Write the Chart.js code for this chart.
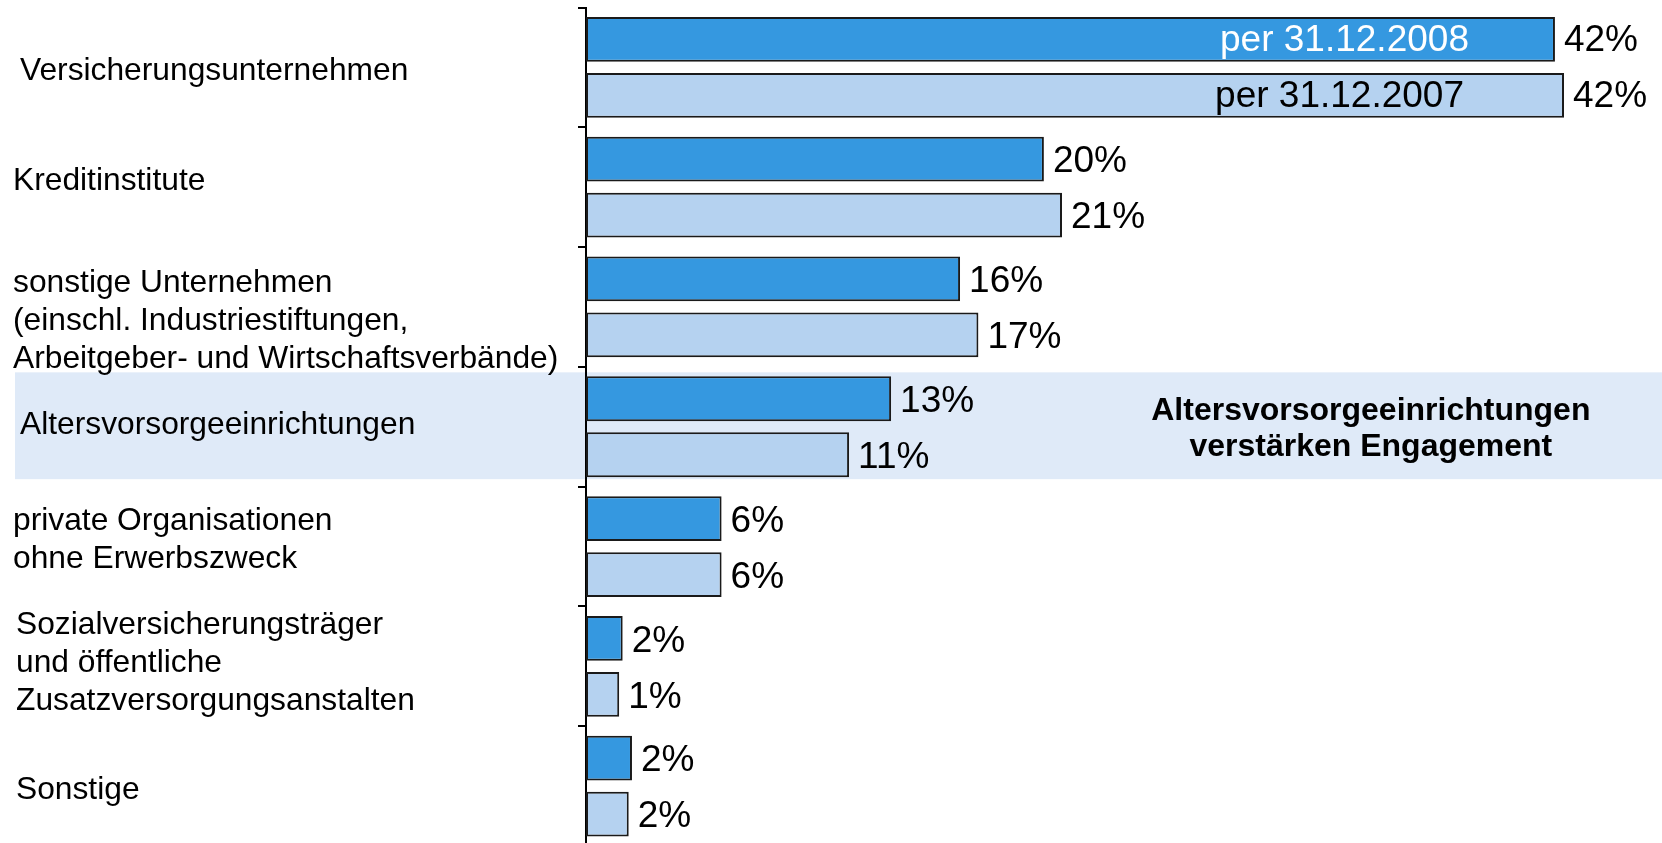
<!DOCTYPE html>
<html>
<head>
<meta charset="utf-8">
<script src="https://cdn.jsdelivr.net/npm/chart.js@4/dist/chart.umd.min.js"></script>
<style>
  html, body { margin: 0; padding: 0; background: #ffffff; overflow: hidden; }
  #wrap { position: relative; width: 1662px; height: 852px; }
</style>
</head>
<body>
<div id="wrap"><canvas id="c"></canvas></div>
<script>
// ---- data ----
const categories = [
  ["Versicherungsunternehmen"],
  ["Kreditinstitute"],
  ["sonstige Unternehmen", "(einschl. Industriestiftungen,", "Arbeitgeber- und Wirtschaftsverbände)"],
  ["Altersvorsorgeeinrichtungen"],
  ["private Organisationen", "ohne Erwerbszweck"],
  ["Sozialversicherungsträger", "und öffentliche", "Zusatzversorgungsanstalten"],
  ["Sonstige"]
];
const seriesNames = ["per 31.12.2008", "per 31.12.2007"];
const values2008 = [41.73, 19.72, 16.11, 13.14, 5.84, 1.58, 1.98];
const values2007 = [42.12, 20.50, 16.90, 11.33, 5.84, 1.43, 1.84];
const highlightIndex = 3;
const highlightText = ["Altersvorsorgeeinrichtungen", "verstärken Engagement"];

// ---- styles / layout (not data) ----
const FONT = "'Liberation Sans', Arial, Helvetica, sans-serif";
const colDark = "#3598E0";
const colLight = "#B5D2F0";
const colBand = "#DFEAF8";
const colBorder = "#1a1a1a";
const labelNudgeX = [7, 0, 0, 7, 0, 3, 3];
const labelNudgeY = [4, -6, 14, -2, -6, -3, 4];

const bandPlugin = {
  id: "band",
  beforeDraw(chart) {
    const ctx = chart.ctx;
    const m0 = chart.getDatasetMeta(0).data[highlightIndex];
    const m1 = chart.getDatasetMeta(1).data[highlightIndex];
    if (!m0 || !m1) return;
    const top = m0.y - m0.height / 2 - 4;
    const bottom = m1.y + m1.height / 2 + 2;
    ctx.save();
    ctx.fillStyle = colBand;
    ctx.fillRect(15, top, chart.width - 15, bottom - top);
    ctx.restore();
  }
};

const categoryLabelPlugin = {
  id: "categoryLabels",
  afterDraw(chart) {
    const ctx = chart.ctx;
    const ys = chart.scales.y;
    const size = 31.75, lh = size * 1.2;
    ctx.save();
    ctx.font = size + "px " + FONT;
    ctx.fillStyle = "#000";
    ctx.textAlign = "left";
    ctx.textBaseline = "middle";
    chart.data.labels.forEach((lines, i) => {
      const cy = ys.getPixelForValue(i) + labelNudgeY[i];
      const x0 = ys.left + labelNudgeX[i];
      const n = lines.length;
      lines.forEach((t, k) => {
        ctx.fillText(t, x0, cy + (k - (n - 1) / 2) * lh);
      });
    });
    ctx.restore();
  }
};

const labelPlugin = {
  id: "valueLabels",
  afterDatasetsDraw(chart) {
    const ctx = chart.ctx;
    ctx.save();
    ctx.textBaseline = "middle";
    ctx.font = "37px " + FONT;
    chart.data.datasets.forEach((ds, di) => {
      const meta = chart.getDatasetMeta(di);
      meta.data.forEach((bar, i) => {
        ctx.fillStyle = "#000";
        ctx.textAlign = "left";
        ctx.fillText(Math.round(ds.data[i]) + "%", bar.x + 9, bar.y + (i === 0 ? 1 : 3));
        if (i === 0) {
          ctx.textAlign = "right";
          ctx.fillStyle = di === 0 ? "#ffffff" : "#000000";
          ctx.fillText(ds.label, bar.x - (di === 0 ? 86 : 100), bar.y + 1);
        }
      });
    });
    // annotation text
    const xs = chart.scales.x, ys = chart.scales.y;
    const cx = xs.getPixelForValue(33.8);
    const cy = ys.getPixelForValue(highlightIndex);
    ctx.font = "bold 32px " + FONT;
    ctx.fillStyle = "#000";
    ctx.textAlign = "center";
    ctx.fillText(highlightText[0], cx, cy - 16);
    ctx.fillText(highlightText[1], cx, cy + 20);
    ctx.restore();
  }
};

new Chart(document.getElementById("c"), {
  type: "bar",
  data: {
    labels: categories,
    datasets: [
      { label: seriesNames[0], data: values2008, backgroundColor: colDark,
        borderColor: colBorder, borderWidth: 2, borderSkipped: false,
        barPercentage: 0.80, categoryPercentage: 0.935 },
      { label: seriesNames[1], data: values2007, backgroundColor: colLight,
        borderColor: colBorder, borderWidth: 2, borderSkipped: false,
        barPercentage: 0.80, categoryPercentage: 0.935 }
    ]
  },
  options: {
    indexAxis: "y",
    responsive: true,
    maintainAspectRatio: false,
    animation: false,
    layout: { padding: { left: 13, right: 0, top: 7.5, bottom: 6 } },
    plugins: { legend: { display: false }, tooltip: { enabled: false } },
    scales: {
      x: { display: false, min: 0, max: 46.34 },
      y: {
        offset: true,
        afterFit(scale) {
          scale.width = 573;
          scale.paddingTop = 0;
          scale.paddingBottom = 0;
        },
        border: { display: true, color: "#000", width: 2 },
        grid: { offset: true, drawOnChartArea: false, tickLength: 8, color: "#000", lineWidth: 2 },
        ticks: { display: false }
      }
    }
  },
  plugins: [bandPlugin, labelPlugin, categoryLabelPlugin]
});
</script>
</body>
</html>
